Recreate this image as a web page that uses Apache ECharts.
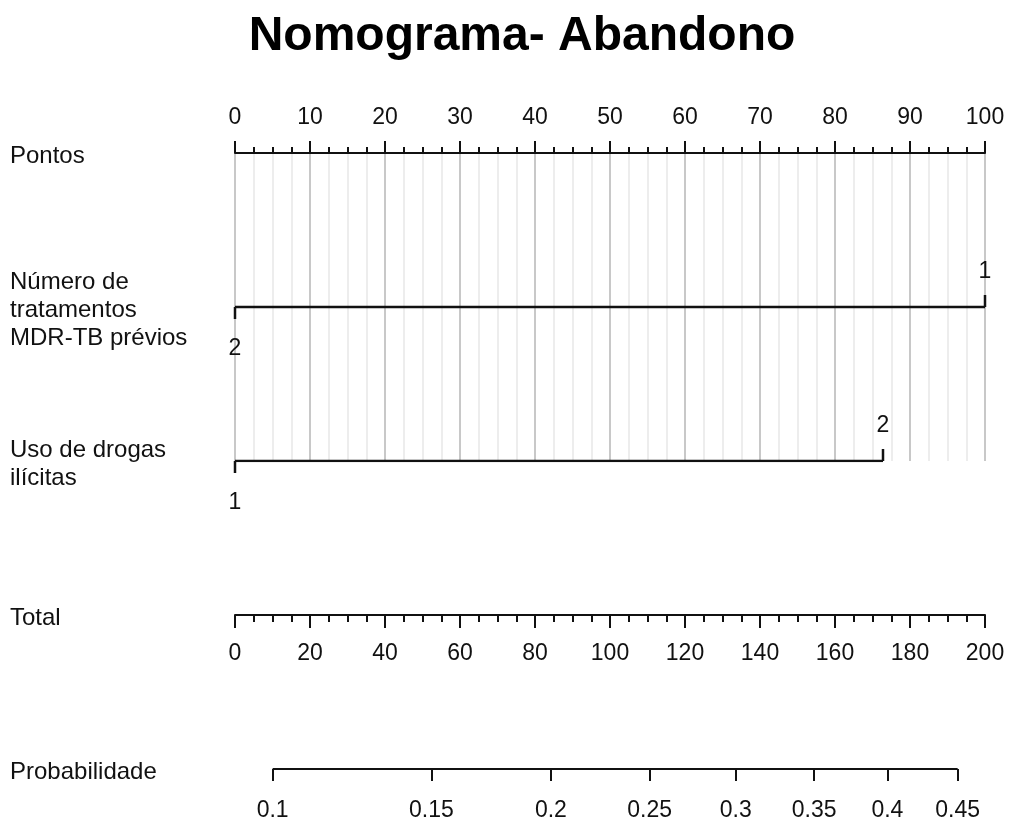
<!DOCTYPE html>
<html>
<head>
<meta charset="utf-8">
<script src="https://cdn.jsdelivr.net/npm/echarts@6/dist/echarts.min.js"></script>
<style>
html,body{margin:0;padding:0;background:#fff;}
#chart{width:1010px;height:821px;}
</style>
</head>
<body>
<div id="chart"></div>
<script>
// ---------- data ----------
const titleText = 'Nomograma- Abandono';
const varRows = ['Pontos', 'Número de\ntratamentos\nMDR-TB prévios', 'Uso de drogas\nilícitas'];
const bottomRows = ['Total', 'Probabilidade'];
// points scale
const pointsMin = 0, pointsMax = 100, pointsStep = 10;
// variable levels and their points
const mdrLevels = ['1', '2'];
const mdrPoints = [100, 0];
const drugLevels = ['1', '2'];
const drugPoints = [0, 86.4];
// total points scale
const totalMin = 0, totalMax = 200, totalStep = 20;
// logistic model linking total points to probability
const modelIntercept = -2.307;
const modelSlope = 0.01093;
const probTicks = [0.1, 0.15, 0.2, 0.25, 0.3, 0.35, 0.4, 0.45];

// ---------- helpers ----------
const logit = p => Math.log(p / (1 - p));
const FONT = '"Liberation Sans", Arial, sans-serif';
const FS = 23;     // tick numbers
const FSL = 24;    // row labels
const INK = '#111';

// level marks (tick + label) for each variable row
const levelMarks = [];
function addLevels(rowIdx, levels, pts) {
  const order = pts.map((p, i) => i).sort((a, b) => pts[a] - pts[b]);
  order.forEach((i, k) => {
    levelMarks.push({ x: pts[i], row: rowIdx, label: levels[i], dir: k % 2 === 0 ? 1 : -1 });
  });
}
addLevels(1, mdrLevels, mdrPoints);
addLevels(2, drugLevels, drugPoints);

const probLogits = probTicks.map(logit);
const probAxisMin = modelIntercept + modelSlope * totalMin;
const probAxisMax = modelIntercept + modelSlope * totalMax;

const chart = echarts.init(document.getElementById('chart'), null, { renderer: 'canvas' });

const rowLabelStyle = {
  align: 'left', margin: 225, fontSize: FSL, lineHeight: 28, fontFamily: FONT, color: INK,
  interval: 0,
  formatter: v => '{s| }\n' + v.split('\n').map(s => '{r|' + s + '}').join('\n'),
  rich: {
    s: { fontSize: 1, lineHeight: 7 },
    r: { fontSize: FSL, lineHeight: 28, fontFamily: FONT, color: INK, align: 'left' }
  }
};

const option = {
  backgroundColor: '#fff',
  animation: false,
  title: {
    text: titleText,
    left: 517,
    textAlign: 'center',
    top: 8,
    textStyle: { fontFamily: FONT, fontSize: 48, fontWeight: 'bold', color: '#000' }
  },
  grid: [
    { left: 235, right: 25, top: 153, height: 308, outerBoundsMode: 'none', containLabel: false },
    { left: 235, right: 25, top: 615, height: 154, outerBoundsMode: 'none', containLabel: false }
  ],
  xAxis: [
    {
      gridIndex: 0, type: 'value', position: 'top',
      min: pointsMin, max: pointsMax, interval: pointsStep,
      axisLine: { show: true, onZero: false, lineStyle: { color: INK, width: 2 } },
      axisTick: { show: true, length: 12, lineStyle: { color: INK, width: 2 } },
      minorTick: { show: true, splitNumber: 4, length: 6, lineStyle: { color: INK, width: 2 } },
      axisLabel: { margin: 24, fontSize: FS, fontFamily: FONT, color: INK },
      splitLine: { show: true, lineStyle: { color: '#c8c8c8', width: 2 } },
      minorSplitLine: { show: true, lineStyle: { color: '#e8e8e8', width: 1.5 } }
    },
    {
      gridIndex: 1, type: 'value', position: 'top',
      min: totalMin, max: totalMax, interval: totalStep,
      axisLine: { show: true, onZero: false, lineStyle: { color: INK, width: 2 } },
      axisTick: { show: true, inside: true, length: 13, lineStyle: { color: INK, width: 2 } },
      minorTick: { show: true, splitNumber: 4, length: 7, lineStyle: { color: INK, width: 2 } },
      axisLabel: { inside: true, margin: 27, fontSize: FS, fontFamily: FONT, color: INK },
      splitLine: { show: false }
    },
    {
      gridIndex: 1, type: 'value', position: 'bottom',
      min: probAxisMin, max: probAxisMax,
      axisLine: { show: false, onZero: false },
      axisTick: { show: true, length: 12, customValues: probLogits, lineStyle: { color: INK, width: 2 } },
      axisLabel: {
        customValues: probLogits, margin: 30, fontSize: FS, fontFamily: FONT, color: INK,
        formatter: v => String(+(1 / (1 + Math.exp(-v))).toFixed(2))
      },
      splitLine: { show: false }
    }
  ],
  yAxis: [
    {
      gridIndex: 0, type: 'category', data: varRows, inverse: true, boundaryGap: false,
      axisLine: { show: false }, axisTick: { show: false }, splitLine: { show: false },
      axisLabel: rowLabelStyle
    },
    {
      gridIndex: 1, type: 'category', data: bottomRows, inverse: true, boundaryGap: false,
      axisLine: { show: false }, axisTick: { show: false }, splitLine: { show: false },
      axisLabel: rowLabelStyle
    }
  ],
  series: [
    {
      type: 'line', xAxisIndex: 0, yAxisIndex: 0, symbol: 'none', silent: true,
      lineStyle: { color: INK, width: 2.5 },
      data: [[Math.min(...mdrPoints), 1], [Math.max(...mdrPoints), 1]]
    },
    {
      type: 'line', xAxisIndex: 0, yAxisIndex: 0, symbol: 'none', silent: true,
      lineStyle: { color: INK, width: 2.5 },
      data: [[Math.min(...drugPoints), 2], [Math.max(...drugPoints), 2]]
    },
    {
      type: 'custom', xAxisIndex: 0, yAxisIndex: 0, silent: true, clip: false,
      data: levelMarks.map(m => [m.x, m.row]),
      renderItem: function (params, api) {
        const m = levelMarks[params.dataIndex];
        const p = api.coord([api.value(0), api.value(1)]);
        return {
          type: 'group',
          children: [
            { type: 'line', shape: { x1: p[0], y1: p[1], x2: p[0], y2: p[1] + m.dir * 12 },
              style: { stroke: INK, lineWidth: 2.5 } },
            { type: 'text', x: p[0], y: p[1] + (m.dir < 0 ? -35 : 42),
              style: { text: m.label, fill: INK, fontSize: FS, fontFamily: FONT, align: 'center', verticalAlign: 'middle' } }
          ]
        };
      }
    },
    {
      type: 'line', xAxisIndex: 2, yAxisIndex: 1, symbol: 'none', silent: true,
      lineStyle: { color: INK, width: 2 },
      data: [[probLogits[0], 1], [probLogits[probLogits.length - 1], 1]]
    }
  ]
};
chart.setOption(option);
</script>
</body>
</html>
